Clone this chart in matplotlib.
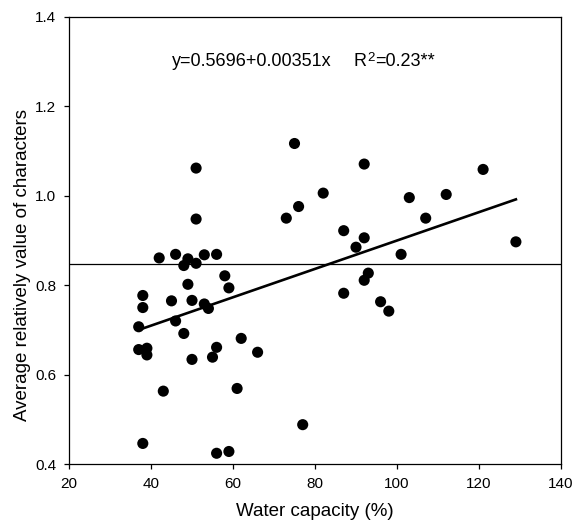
import matplotlib
matplotlib.use("Agg")
import matplotlib.pyplot as plt
import numpy as np

plt.rcParams['font.family'] = ['Liberation Sans', 'DejaVu Sans']

# Data
water_capacity = [51, 51, 42, 46, 49, 48, 51, 53, 56, 58, 59, 49, 38, 45, 50, 53, 54, 38,
                  37, 46, 48, 37, 39, 39, 50, 55, 56, 62, 66, 43, 61, 38, 56, 59,
                  75, 92, 82, 73, 76, 87, 92, 90, 101, 103, 107, 112, 93, 92, 87, 96,
                  98, 77, 121, 129]
avg_value = [1.062, 0.948, 0.861, 0.869, 0.859, 0.844, 0.849, 0.868, 0.869, 0.821, 0.794,
             0.802, 0.777, 0.765, 0.766, 0.758, 0.748, 0.750, 0.707, 0.720, 0.692, 0.656,
             0.659, 0.644, 0.634, 0.639, 0.661, 0.681, 0.650, 0.563, 0.569, 0.446, 0.424,
             0.428, 1.117, 1.071, 1.006, 0.950, 0.976, 0.922, 0.906, 0.885, 0.869, 0.996,
             0.950, 1.003, 0.827, 0.811, 0.782, 0.763, 0.742, 0.488, 1.059, 0.897]

mean_line = 0.847
fit_x = [37, 129]
fit_y = [0.700, 0.992]

x_ticks = [20, 40, 60, 80, 100, 120, 140]
y_ticks = [0.4, 0.6, 0.8, 1.0, 1.2, 1.4]

fig = plt.figure(figsize=(5.74, 5.23), dpi=100)
ax = fig.add_axes([69/574, 1 - 464/523, (561-69)/574, (464-17)/523])

ax.axhline(mean_line, color='black', lw=0.9, zorder=1)
ax.plot(fit_x, fit_y, color='black', lw=1.9, zorder=2)
ax.scatter(water_capacity, avg_value, s=64, color='black', edgecolors='none', zorder=3)

ax.set_xlim(20, 140)
ax.set_ylim(0.4, 1.4)
ax.set_xticks(x_ticks)
ax.set_yticks(y_ticks)
ax.set_xticklabels([str(t) for t in x_ticks])
ax.set_yticklabels([f"{t:.1f}" for t in y_ticks])
ax.tick_params(direction='out', length=3.5, width=0.9, labelsize=11, pad=5.5,
               top=False, right=False)
for s in ax.spines.values():
    s.set_linewidth(0.9)

ax.set_xlabel("Water capacity (%)", fontsize=13.5)
ax.set_ylabel("Average relatively value of characters", fontsize=13.5)
ax.xaxis.set_label_coords(0.5, -0.087)
ax.yaxis.set_label_coords(-0.078, 0.445)

# Equation annotation
ax.text(45.1, 1.29, "y=0.5696+0.00351x", fontsize=13, ha='left', va='baseline')
t_r = ax.text(89.5, 1.29, "R", fontsize=13, ha='left', va='baseline')
t_2 = ax.annotate("2", xy=(1, 0), xycoords=t_r, xytext=(0.3, 4.8),
                  textcoords='offset points', fontsize=9.5, ha='left', va='bottom')
ax.annotate("=0.23**", xy=(1, 0), xycoords=(t_2, t_r), xytext=(0.3, 0),
            textcoords='offset points', fontsize=13, ha='left', va='bottom')

fig.savefig("out.png", dpi=100)
